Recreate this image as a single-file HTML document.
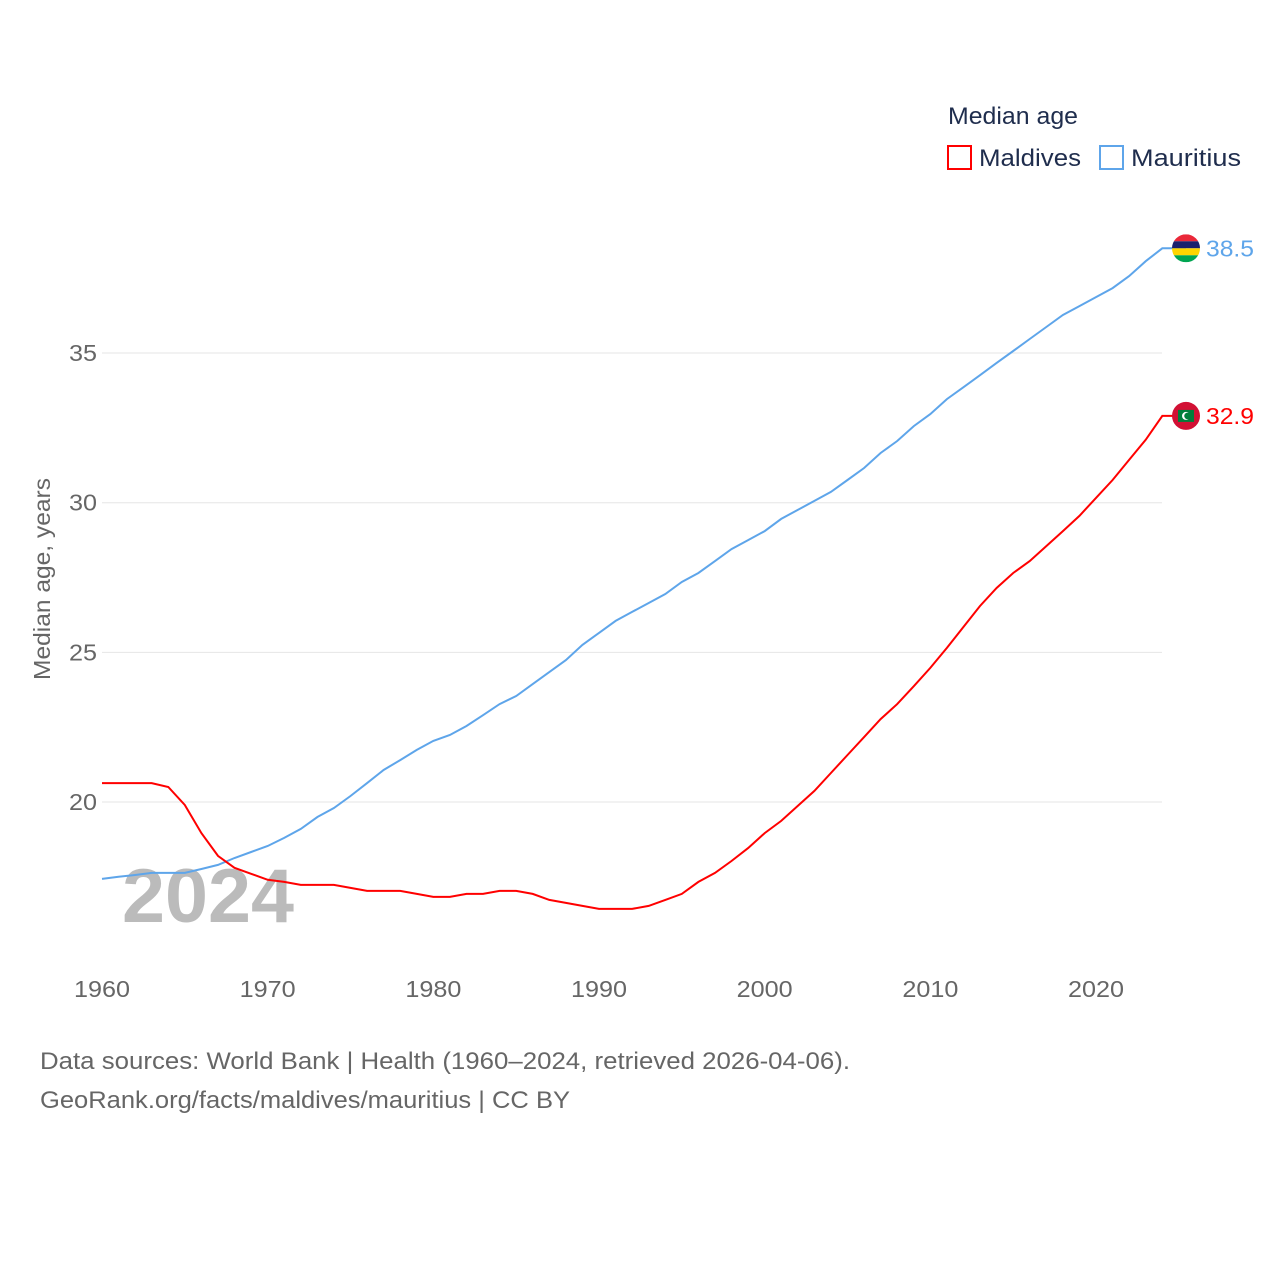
<!DOCTYPE html>
<html><head><meta charset="utf-8"><style>
body{margin:0;background:#fff;font-family:"Liberation Sans",sans-serif}
svg text{font-family:"Liberation Sans",sans-serif}
</style></head><body>
<svg id="chart" width="1280" height="1280" xmlns="http://www.w3.org/2000/svg">
<defs><clipPath id="c1"><circle cx="1186" cy="248" r="14"/></clipPath></defs>
<g id="grid"></g>
<g id="yticks"></g>
<g id="xticks"></g>
<text x="122" y="922" font-size="76" font-weight="bold" fill="#bbb" textLength="172" lengthAdjust="spacingAndGlyphs">2024</text>
<text transform="translate(50,579) rotate(-90)" text-anchor="middle" font-size="23" fill="#666" textLength="202" lengthAdjust="spacingAndGlyphs">Median age, years</text>
<g id="series"></g>
<g>
<text x="948" y="124" font-size="24" fill="#1f2d4d" textLength="130" lengthAdjust="spacingAndGlyphs">Median age</text>
<rect x="948" y="146" width="23" height="23" fill="none" stroke="#f00" stroke-width="2"/>
<text x="979" y="166" font-size="24" fill="#1f2d4d" textLength="102" lengthAdjust="spacingAndGlyphs">Maldives</text>
<rect x="1100" y="146" width="23" height="23" fill="none" stroke="#5ea5ea" stroke-width="2"/>
<text x="1131" y="166" font-size="24" fill="#1f2d4d" textLength="110" lengthAdjust="spacingAndGlyphs">Mauritius</text>
</g>
<text x="40" y="1069" font-size="24" fill="#666" textLength="810" lengthAdjust="spacingAndGlyphs">Data sources: World Bank | Health (1960–2024, retrieved 2026-04-06).</text>
<text x="40" y="1108" font-size="24" fill="#666" textLength="530" lengthAdjust="spacingAndGlyphs">GeoRank.org/facts/maldives/mauritius | CC BY</text>
</svg>
<script>
const years=[];for(let y=1960;y<=2024;y++)years.push(y);
const maldives=[20.63,20.63,20.63,20.63,20.5,19.9,18.96,18.2,17.8,17.6,17.4,17.33,17.23,17.23,17.23,17.13,17.03,17.03,17.03,16.93,16.83,16.83,16.93,16.93,17.03,17.03,16.93,16.73,16.63,16.53,16.43,16.43,16.43,16.53,16.73,16.93,17.33,17.63,18.03,18.46,18.96,19.37,19.87,20.37,20.97,21.57,22.17,22.77,23.27,23.87,24.48,25.15,25.85,26.55,27.15,27.65,28.05,28.55,29.05,29.56,30.16,30.76,31.43,32.1,32.9];
const mauritius=[17.43,17.5,17.56,17.63,17.63,17.63,17.76,17.9,18.13,18.33,18.53,18.8,19.1,19.5,19.8,20.2,20.63,21.07,21.4,21.74,22.04,22.24,22.54,22.9,23.27,23.54,23.94,24.34,24.74,25.25,25.65,26.05,26.35,26.65,26.95,27.35,27.65,28.05,28.45,28.75,29.05,29.46,29.76,30.06,30.36,30.76,31.16,31.66,32.06,32.56,32.96,33.46,33.86,34.26,34.67,35.07,35.47,35.87,36.27,36.57,36.87,37.17,37.57,38.07,38.5];
const yTicks=[20,25,30,35];
const xTicks=[1960,1970,1980,1990,2000,2010,2020];
const X=y=>102+(y-1960)*(1096-102)/60;
const Y=v=>802-(v-20)*29.93;
const NS="http://www.w3.org/2000/svg";
function mk(tag,parent,attrs){const e=document.createElementNS(NS,tag);for(const k in attrs)e.setAttribute(k,attrs[k]);parent.appendChild(e);return e;}
const grid=document.getElementById('grid'),yt=document.getElementById('yticks'),xt=document.getElementById('xticks'),ser=document.getElementById('series');
yTicks.forEach(v=>{
 const l=mk('line',grid,{x1:102,x2:1162,y1:Y(v),y2:Y(v),stroke:'#e6e6e6','stroke-width':1});
 
 
 const t=mk('text',yt,{x:97,y:Y(v)+8,'text-anchor':'end','font-size':23,fill:'#666',textLength:28,lengthAdjust:'spacingAndGlyphs'});t.textContent=v;
 
 
});
xTicks.forEach(v=>{
 const t=mk('text',xt,{x:X(v),y:997,'text-anchor':'middle','font-size':23,fill:'#666',textLength:56,lengthAdjust:'spacingAndGlyphs'});t.textContent=v;
 
 
});
function series(vals,color,name){
 let d=vals.map((v,i)=>(i?'L':'M')+X(years[i]).toFixed(1)+','+Y(v).toFixed(1)).join('');
 const last=vals[vals.length-1];
 d+='L1186,'+Y(last).toFixed(1);
 const p=mk('path',ser,{d:d,fill:'none',stroke:color,'stroke-width':2});
 
 
 const cy=Y(last);
 if(name==='mauritius'){
  document.querySelector('#c1 circle').setAttribute('cy',cy);
 }
 const g=mk('g',ser,{});
 
 
 if(name==='mauritius'){
  g.setAttribute('clip-path','url(#c1)');
  const cols=['#ea2839','#1a206d','#ffd500','#00a551'];
  cols.forEach((c,i)=>mk('rect',g,{x:1172,y:cy-14+i*7,width:28,height:7,fill:c}));
 }else{
  mk('circle',g,{cx:1186,cy:cy,r:14,fill:'#d21034'});
  mk('rect',g,{x:1178,y:cy-6,width:16,height:12,fill:'#007e3a'});
  mk('circle',g,{cx:1186,cy:cy,r:4,fill:'#fff'});
  mk('circle',g,{cx:1187.5,cy:cy,r:3.3,fill:'#007e3a'});
 }
 const t=mk('text',ser,{x:1206,y:cy+8,'font-size':23,fill:color,textLength:48,lengthAdjust:'spacingAndGlyphs'});t.textContent=last.toFixed(1);
 
 
}
series(mauritius,'#5ea5ea','mauritius');
series(maldives,'#f00','maldives');
</script>
</body></html>
